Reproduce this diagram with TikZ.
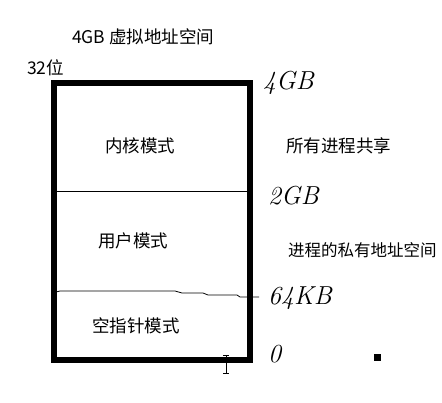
\documentclass[tikz,border=0pt]{standalone}
\usepackage{fontspec}
\newfontfamily\cjk{Noto Sans CJK SC}
\usetikzlibrary{calc}

\tikzset{
  label/.style={font=\cjk\fontsize{17.5}{20}\selectfont, inner sep=0pt},
  hand/.style={font=\itshape\fontsize{26}{28}\selectfont, inner sep=0pt},
}

\begin{document}
\begin{tikzpicture}[x=1pt,y=-1pt]
  \clip (0,0) rectangle (442,402);
  \fill[white] (0,0) rectangle (442,402);
  % the 4GB box
  \draw[line width=6pt] (53.5,83) rectangle (250,360);
  \draw[line width=0.8pt] (56,191) -- (247,191);
  \draw[line width=0.8pt] (56,292) -- (60,291) -- (175,291) -- (182,293) -- (203,293)
    -- (208,295) -- (237,295) -- (240,297) -- (259,297);
  % labels
  \node[label, anchor=west] (title) at (72,37) {4GB 虚拟地址空间};
  \node[label, anchor=west] (bits) at (27,68) {32位};
  \node[label] (kernel) at (140,146) {内核模式};
  \node[label] (user) at (133,241) {用户模式};
  \node[label] (null) at (136,326) {空指针模式};
  \node[label, anchor=west] (shared) at (286,146) {所有进程共享};
  \node[label, anchor=west, font=\cjk\fontsize{16.5}{19}\selectfont] (private) at (288,250) {进程的私有地址空间};
  % handwritten addresses
  \node[hand, anchor=west] (top) at (263,83) {4GB};
  \node[hand, anchor=west] (mid) at (268,196) {2GB};
  \node[hand, anchor=west] (low) at (268,298) {64KB};
  \node[hand, anchor=west] (zero) at (268,354) {0};
  % cursor and dot
  \draw[line width=0.8pt] (226,355) -- (226,373)
    (223,355) -- (229,355) (223,373) -- (229,373);
  \fill (374,354) rectangle (381,361);
\end{tikzpicture}
\end{document}
